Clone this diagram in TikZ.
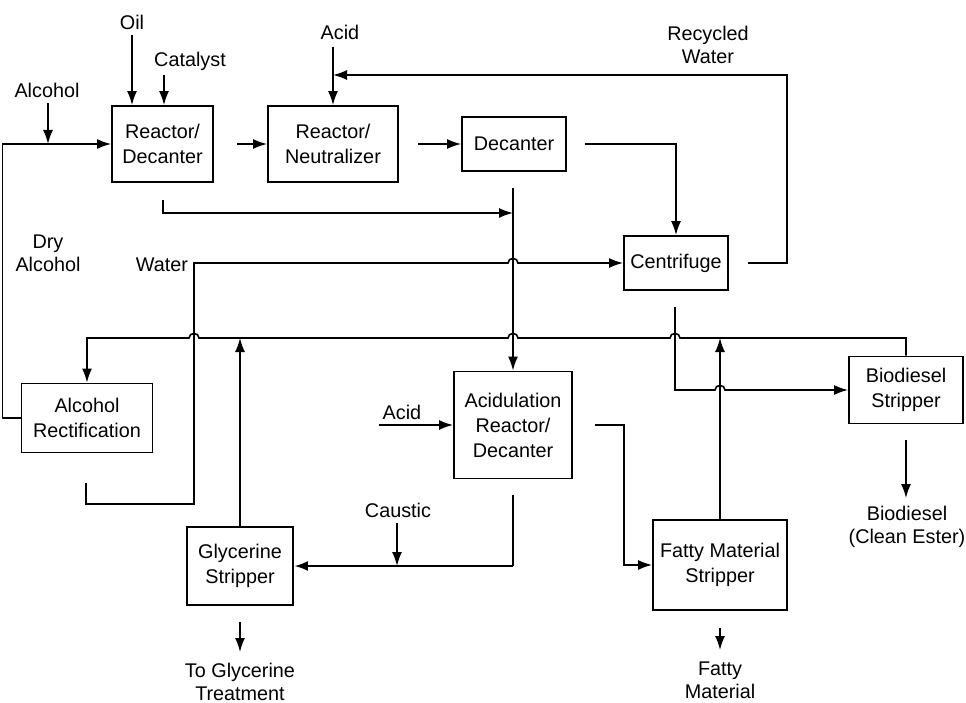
\documentclass[tikz,border=0pt]{standalone}
\usepackage{fontspec}
\setmainfont{Liberation Sans}
\usetikzlibrary{arrows.meta}
\begin{document}
\begin{tikzpicture}[x=1pt,y=-1pt,
  box/.style={draw,line width=1.8pt,inner sep=0pt,align=center,font=\fontsize{19.8}{25}\selectfont},
  lbl/.style={inner sep=0pt,align=center,font=\fontsize{19.8}{23}\selectfont},
  flow/.style={line width=1.6pt},
  arr/.style={flow,-{Latex[length=14pt,width=10pt]}},
  heavy/.style={arr,line width=2.8pt},
]
\useasboundingbox (0,0) rectangle (966,703);

% process units
\node[box,minimum width=101pt,minimum height=76pt] (rd) at (162.5,144) {Reactor/\\Decanter};
\node[box,minimum width=130pt,minimum height=76pt] (nz) at (333,144) {Reactor/\\Neutralizer};
\node[box,minimum width=104pt,minimum height=54pt] (dc) at (514,144) {Decanter};
\node[box,minimum width=104pt,minimum height=54pt] (cf) at (676,263) {Centrifuge};
\node[box,minimum width=131pt,minimum height=69pt] (ar) at (87,418) {Alcohol\\Rectification};
\node[box,minimum width=118pt,minimum height=107pt] (acd) at (513,425) {Acidulation\\Reactor/\\Decanter};
\node[box,minimum width=106pt,minimum height=78pt] (gs) at (240,566) {Glycerine\\Stripper};
\node[box,minimum width=134pt,minimum height=90pt] (fm) at (720,565) {Fatty Material\\Stripper};
\node[box,minimum width=114pt,minimum height=67pt] (bds) at (906,390) {Biodiesel\\Stripper};

% stream labels
\node[lbl] (oil) at (132,22) {Oil};
\node[lbl] (cat) at (190,61) {Catalyst};
\node[lbl] (alc) at (47,90) {Alcohol};
\node[lbl] (acidA) at (340,32) {Acid};
\node[lbl] (recyc) at (708,45) {Recycled\\Water};
\node[lbl] (dry) at (48,253) {Dry\\Alcohol};
\node[lbl] (water) at (162,265) {Water};
\node[lbl] (acidB) at (402,412) {Acid};
\node[lbl] (caustic) at (398,510) {Caustic};
\node[lbl] (glyout) at (240,682) {To Glycerine\\Treatment};
\node[lbl] (fatout) at (720,680) {Fatty\\Material};
\node[lbl] (bdout) at (907,527) {Biodiesel\\(Clean Ester)};

% free line ends
\coordinate (mainline) at (0,338);
\coordinate (oilin) at (132,35);
\coordinate (catin) at (164,75);
\coordinate (alcin) at (48,103);
\coordinate (alcjoin) at (48,144);
\coordinate (acidin) at (333,47);
\coordinate (rwjoin) at (333,75);
\coordinate (rdnz) at (237,144);
\coordinate (nzdc) at (418,144);
\coordinate (dcout) at (585,144);
\coordinate (cfout) at (748,263);
\coordinate (rdout) at (163,200);
\coordinate (merge) at (513,213);
\coordinate (feed) at (513,188);
\coordinate (arout) at (86,483);
\coordinate (cfdown) at (675,307);
\coordinate (acidBin) at (379,425);
\coordinate (acdside) at (595,425);
\coordinate (acddown) at (513,495);
\coordinate (gsjoin) at (513,566);
\coordinate (causticin) at (397,523);
\coordinate (causticjoin) at (397,566);
\coordinate (gsout) at (240,622);
\coordinate (gsend) at (240,652);
\coordinate (fmout) at (720,628);
\coordinate (fmend) at (720,650);
\coordinate (bdsout) at (906,440);
\coordinate (bdsend) at (906,498);

% feeds into the first reactor
\draw[arr] (oilin) -- (oilin |- rd.north);
\draw[arr] (catin) -- (catin |- rd.north);
\draw[arr] (alcin) -- (alcjoin);
\draw[arr] (ar.west) -- ++(-18,0) |- (rd.west);

% main train
\draw[arr] (rdnz) -- (nz.west);
\draw[arr] (nzdc) -- (dc.west);
\draw[arr] (acidin) -- (nz.north);
\draw[arr] (cfout) -- (787,263) -- (787,75) -- (rwjoin);
\draw[arr] (dcout) -| (cf.north);
\draw[arr] (rdout) |- (merge);
\draw[arr] (feed) -- (acd.north);

% wash water to the centrifuge, hopping the feed line
\draw[arr] (arout) -- (86,504) -- (194,504) -- (194,263) -- (508,263)
  .. controls (508,257) and (518,257) .. (518,263) -- (cf.west);

% alcohol return header
\draw[arr] (bds.north) |- (680,338)
  .. controls (680,332) and (670,332) .. (670,338) -- (518,338)
  .. controls (518,332) and (508,332) .. (508,338) -- (199,338)
  .. controls (199,332) and (189,332) .. (189,338) -| (ar.north);
\draw[arr] (gs.north) -- (gs.north |- mainline);
\draw[arr] (fm.north) -- (fm.north |- mainline);

% ester phase to the biodiesel stripper
\draw[arr] (cfdown) -- (675,390) -- (715,390)
  .. controls (715,384) and (725,384) .. (725,390) -- (bds.west);

% acidulation section
\draw[arr] (acidBin) -- (acd.west);
\draw[arr] (acdside) -- (624,425) |- (fm.west);
\draw[flow] (acddown) -- (gsjoin);
\draw[heavy] (gsjoin) -- (gs.east);
\draw[arr] (causticin) -- (causticjoin);

% products
\draw[arr] (gsout) -- (gsend);
\draw[arr] (fmout) -- (fmend);
\draw[arr] (bdsout) -- (bdsend);
\end{tikzpicture}
\end{document}
